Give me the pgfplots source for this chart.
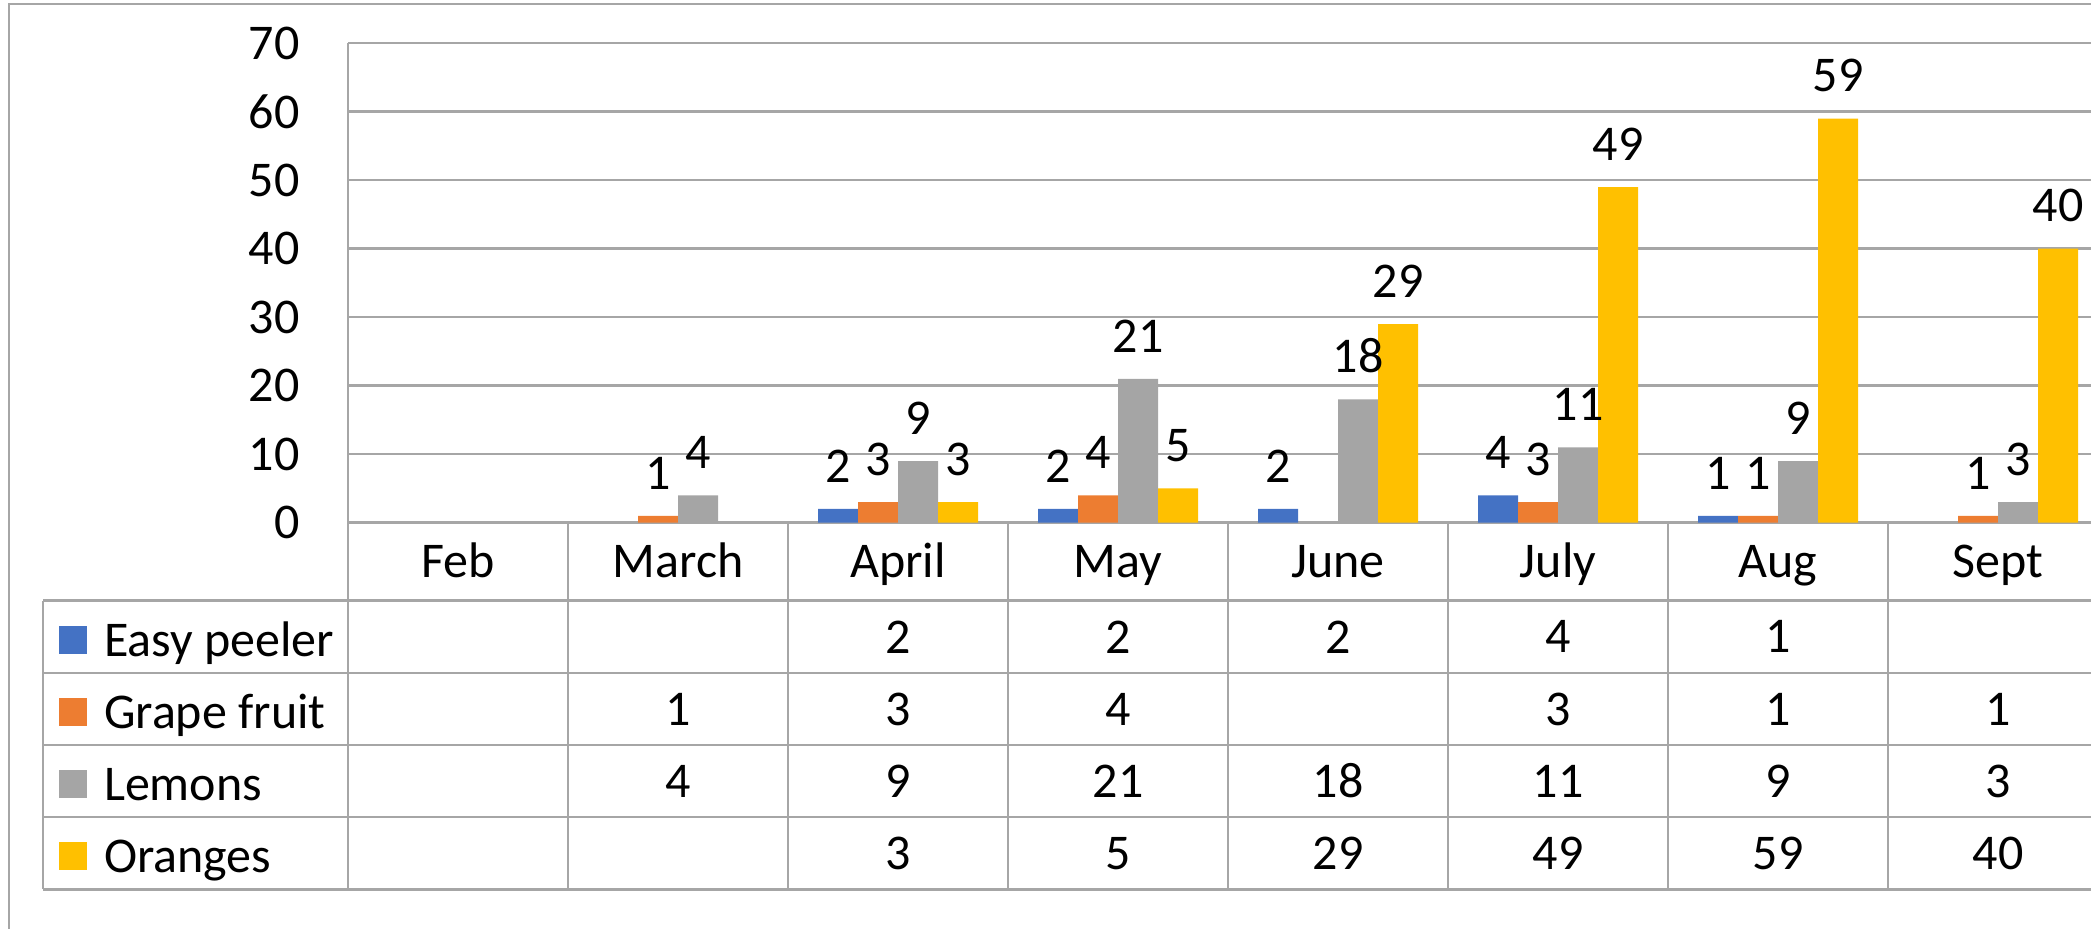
\documentclass[border=0pt]{standalone}
\usepackage{fontspec}
\setmainfont{Carlito}
\usepackage{pgfplots}
\pgfplotsset{compat=1.18}
\usepackage{pgfplotstable}
\definecolor{cblue}{HTML}{4472C4}
\definecolor{corange}{HTML}{ED7D31}
\definecolor{cgray}{HTML}{A5A5A5}
\definecolor{cgold}{HTML}{FFC000}
\definecolor{linec}{HTML}{A6A6A6}

\pgfplotstableread{
m v
2 2
3 2
4 2
5 4
6 1
}\easy
\pgfplotstableread{
m v
1 1
2 3
3 4
5 3
6 1
7 1
}\grape
\pgfplotstableread{
m v
1 4
2 9
3 21
4 18
5 11
6 9
7 3
}\lemons
\pgfplotstableread{
m v
2 3
3 5
4 29
5 49
6 59
7 40
}\oranges

\pgfplotsset{
  sqlegend/.style={legend image code/.code={\fill[##1, draw=none] (0pt,-7pt) rectangle (14pt,7pt);}},
  mybar/.style 2 args={ybar, bar width=20pt, bar shift=#2, draw=none, fill=#1, sqlegend,
    nodes near coords,
    every node near coord/.append style={inner sep=0pt, yshift=13pt, xshift=#2, text=black}},
  tval/.style={forget plot, draw=none, mark=none, point meta=explicit,
    nodes near coords,
    every node near coord/.append style={anchor=center, inner sep=0pt, text=black}},
}

\begin{document}
\begin{tikzpicture}[font=\fontsize{25}{30}\selectfont]
\path[use as bounding box] (0,0) rectangle (1045.5pt,464.5pt);
\clip (0,0) rectangle (1045.5pt,464.5pt);
\draw[linec, line width=1.2pt] (4.35pt,-10pt) -- (4.35pt,462.35pt) -- (1060pt,462.35pt);
\begin{axis}[
  at={(174pt,203.15pt)}, anchor=south west,
  scale only axis, width=880pt, height=239.75pt,
  xmin=-0.5, xmax=7.5, ymin=0, ymax=70,
  ytick={0,10,...,70},
  xtick={0,...,7},
  xticklabels={Feb,March,April,May,June,July,Aug,Sept},
  major tick length=0pt,
  axis line style={draw=none},
  ymajorgrids, grid style={linec, line width=1.2pt},
  yticklabel style={anchor=east, inner sep=0pt, xshift=-24pt},
  xticklabel style={anchor=base, inner sep=0pt, yshift=-27.55pt},
  /pgf/number format/assume math mode=true,
  clip=false,
  legend style={at={(-0.1642,-0.1937)}, anchor=north west, draw=none, fill=none,
    inner sep=0pt, row sep=12pt, column sep=8.3pt,
    nodes={inner sep=0pt, text height=20.05pt, text depth=3.95pt}},
  legend cell align=left,
]
\draw[linec, line width=1.2pt] (axis cs:-0.5,70) -- (axis cs:-0.5,-53.52);
\draw[linec, line width=1.2pt] (axis cs:-0.5,0) -- (axis cs:8,0);
\draw[linec, line width=1.2pt] (axis cs:0.5,0) -- (axis cs:0.5,-53.52);
\draw[linec, line width=1.2pt] (axis cs:1.5,0) -- (axis cs:1.5,-53.52);
\draw[linec, line width=1.2pt] (axis cs:2.5,0) -- (axis cs:2.5,-53.52);
\draw[linec, line width=1.2pt] (axis cs:3.5,0) -- (axis cs:3.5,-53.52);
\draw[linec, line width=1.2pt] (axis cs:4.5,0) -- (axis cs:4.5,-53.52);
\draw[linec, line width=1.2pt] (axis cs:5.5,0) -- (axis cs:5.5,-53.52);
\draw[linec, line width=1.2pt] (axis cs:6.5,0) -- (axis cs:6.5,-53.52);
\draw[linec, line width=1.2pt] (axis cs:7.5,0) -- (axis cs:7.5,-53.52);
\draw[linec, line width=1.2pt] (axis cs:-1.885,-11.387) -- (axis cs:-1.885,-53.52);
\draw[linec, line width=1.2pt] (axis cs:-1.885,-11.387) -- (axis cs:8,-11.387);
\draw[linec, line width=1.2pt] (axis cs:-1.885,-21.94) -- (axis cs:8,-21.94);
\draw[linec, line width=1.2pt] (axis cs:-1.885,-32.45) -- (axis cs:8,-32.45);
\draw[linec, line width=1.2pt] (axis cs:-1.885,-42.96) -- (axis cs:8,-42.96);
\draw[linec, line width=1.2pt] (axis cs:-1.885,-53.52) -- (axis cs:8,-53.52);

\addplot[mybar={cblue}{-30pt}] table[x=m,y=v]{\easy};
\addlegendentry{Easy peeler}
\addplot[mybar={corange}{-10pt}] table[x=m,y=v]{\grape};
\addlegendentry{Grape fruit}
\addplot[mybar={cgray}{10pt}] table[x=m,y=v]{\lemons};
\addlegendentry{Lemons}
\addplot[mybar={cgold}{30pt}] table[x=m,y=v]{\oranges};
\addlegendentry{Oranges}

\addplot[tval] table[x=m, y expr=-16.66, meta=v]{\easy};
\addplot[tval] table[x=m, y expr=-27.20, meta=v]{\grape};
\addplot[tval] table[x=m, y expr=-37.71, meta=v]{\lemons};
\addplot[tval] table[x=m, y expr=-48.24, meta=v]{\oranges};
\end{axis}
\end{tikzpicture}
\end{document}
